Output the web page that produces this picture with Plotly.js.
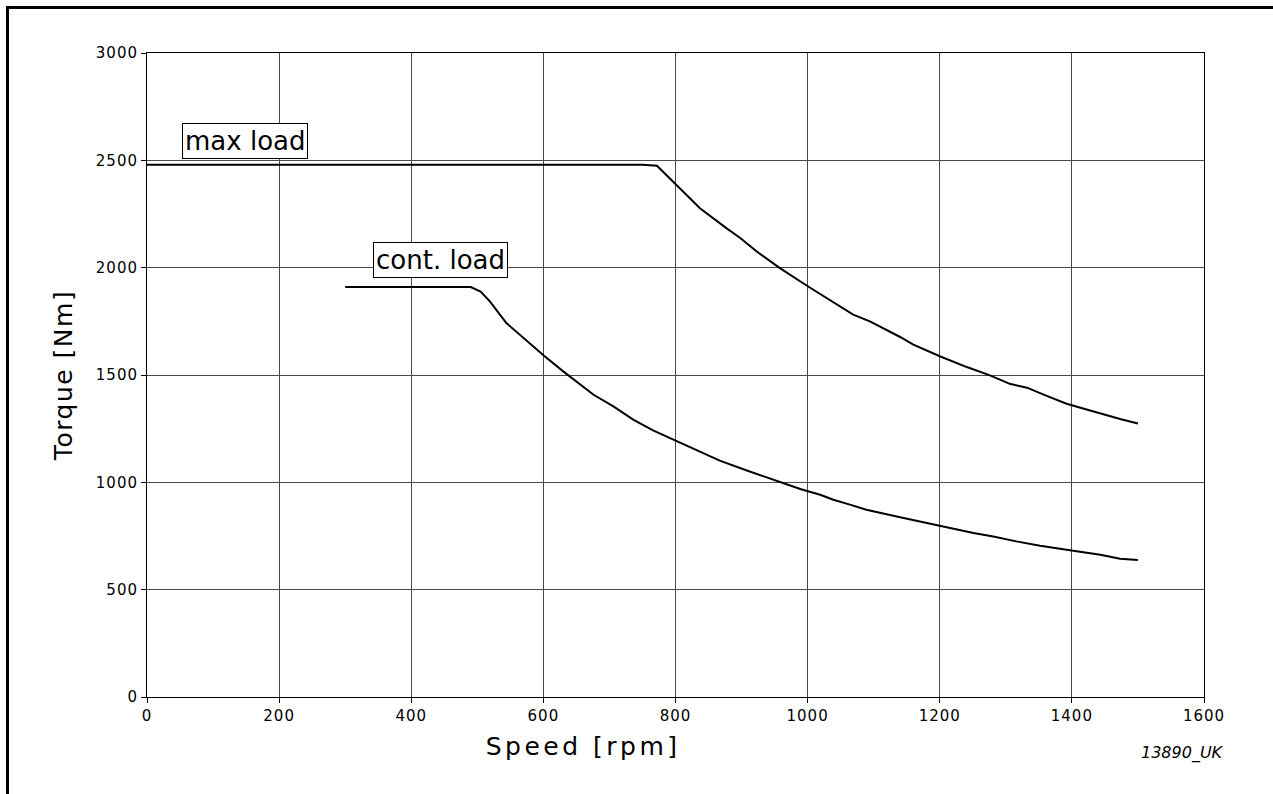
<!DOCTYPE html>
<html>
<head>
<meta charset="utf-8">
<script src="https://cdn.plot.ly/plotly-3.0.1.min.js"></script>
<style>
  html, body { margin: 0; padding: 0; background: #fff; }
  #wrap { position: relative; width: 1273px; height: 794px; }
  #frame { position: absolute; left: 6px; top: 6px; right: 0; bottom: 0;
           border-left: 3px solid #000; border-top: 3px solid #000; pointer-events: none; z-index: 5; }
  #chart { position: absolute; left: 0; top: 0; width: 1273px; height: 794px; }
  .ytitle { letter-spacing: 1.5px; }
  .xtick text, .ytick text { letter-spacing: 1px; }
  .annotation.xtitle-ann text { letter-spacing: 3.5px; }
</style>
</head>
<body>
<div id="wrap">
  <div id="chart"></div>
  <div id="frame"></div>
</div>
<script>
// Max load curve (speed rpm, torque Nm)
const maxSpeed  = [0, 750, 772, 802, 837, 877, 898, 923, 958, 1002, 1029, 1069, 1095, 1120, 1140, 1160, 1201, 1241, 1276, 1306, 1332, 1362, 1392, 1417, 1443, 1473, 1500];
const maxTorque = [2480, 2480, 2475, 2385, 2277, 2184, 2138, 2075, 1998, 1910, 1858, 1781, 1749, 1711, 1677, 1641, 1586, 1537, 1498, 1459, 1441, 1403, 1366, 1344, 1320, 1295, 1274];

// Continuous load curve
const contSpeed  = [300, 490, 505, 519, 544, 570, 601, 630, 676, 706, 736, 766, 802, 832, 867, 908, 938, 958, 990, 1019, 1039, 1064, 1089, 1140, 1201, 1251, 1281, 1316, 1352, 1382, 1402, 1443, 1473, 1500];
const contTorque = [1910, 1910, 1889, 1843, 1742, 1672, 1590, 1517, 1408, 1354, 1292, 1242, 1191, 1149, 1101, 1055, 1023, 1004, 968, 942, 919, 896, 872, 837, 795, 764, 748, 725, 705, 689, 681, 663, 644, 638];

const xTicks = [0, 200, 400, 600, 800, 1000, 1200, 1400, 1600];
const yTicks = [0, 500, 1000, 1500, 2000, 2500, 3000];

const labels = [
  {text: "max load",   x: 148, y: 2592},
  {text: "cont. load", x: 445, y: 2038}
];

const lineStyle = {color: "#000", width: 2};
const traces = [
  {x: maxSpeed,  y: maxTorque,  mode: "lines", line: lineStyle, hoverinfo: "skip", name: "max load"},
  {x: contSpeed, y: contTorque, mode: "lines", line: lineStyle, hoverinfo: "skip", name: "cont. load"}
];

const font = "DejaVu Sans, Verdana, sans-serif";

const annotations = labels.map(l => ({
  x: l.x, y: l.y, xref: "x", yref: "y", text: l.text, showarrow: false,
  font: {family: font, size: 26, color: "#000"},
  bgcolor: "#fff", bordercolor: "#000", borderwidth: 1, borderpad: 2,
  xanchor: "center", yanchor: "middle"
}));
// x-axis title (offset to the left of centre as in the original)
annotations.push({
  x: 0.4125, y: -0.0776, xref: "paper", yref: "paper", text: "Speed [rpm]",
  showarrow: false, font: {family: font, size: 25, color: "#000"},
  xanchor: "center", yanchor: "middle", name: "xtitle"
});
annotations.push({
  x: 0.9797, y: -0.087, xref: "paper", yref: "paper", text: "<i>13890_UK</i>",
  showarrow: false, font: {family: font, size: 16, color: "#000"},
  xanchor: "center", yanchor: "middle"
});

const layout = {
  width: 1273, height: 794,
  margin: {l: 147, r: 69, t: 53, b: 97},
  paper_bgcolor: "#fff", plot_bgcolor: "#fff",
  showlegend: false,
  font: {family: font, color: "#000"},
  xaxis: {
    range: [0, 1600], tickvals: xTicks, ticktext: xTicks.map(String),
    showgrid: true, gridcolor: "#4a4a4a", gridwidth: 1,
    showline: true, linecolor: "#000", linewidth: 1, mirror: true,
    ticks: "outside", ticklen: 5, tickcolor: "#000",
    tickfont: {family: font, size: 15, color: "#000"},
    zeroline: false
  },
  yaxis: {
    range: [0, 3000], tickvals: yTicks, ticktext: yTicks.map(String),
    showgrid: true, gridcolor: "#4a4a4a", gridwidth: 1,
    showline: true, linecolor: "#000", linewidth: 1, mirror: true,
    ticks: "outside", ticklen: 5, tickcolor: "#000",
    tickfont: {family: font, size: 15, color: "#000"},
    zeroline: false,
    title: {text: "Torque [Nm]", font: {family: font, size: 25, color: "#000"}, standoff: 16}
  },
  annotations: annotations
};

Plotly.newPlot("chart", traces, layout, {staticPlot: true, displayModeBar: false}).then(() => {
  // widen the letter spacing of the x title annotation
  document.querySelectorAll(".annotation").forEach(a => {
    const t = a.querySelector("text");
    if (t && t.textContent === "Speed [rpm]") t.style.letterSpacing = "3.5px";
  });
});
</script>
</body>
</html>
